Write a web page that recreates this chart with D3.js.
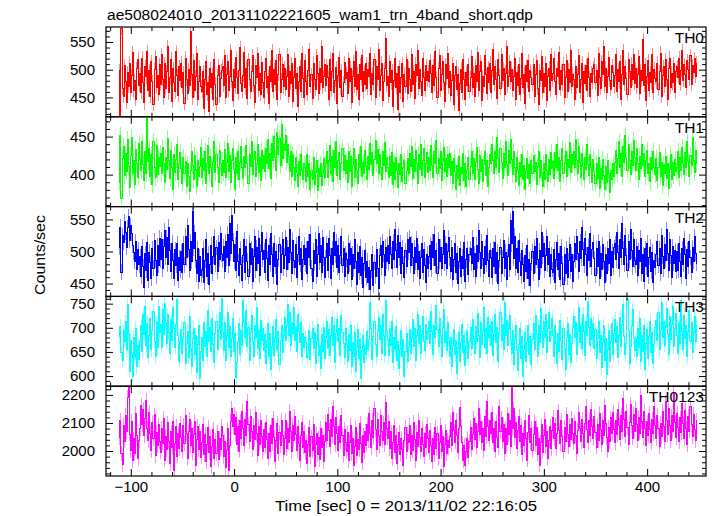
<!DOCTYPE html>
<html><head><meta charset="utf-8">
<script src="https://cdn.jsdelivr.net/npm/d3@7"></script>
<style>body{margin:0;background:#fff}svg{display:block}text{font-family:"Liberation Sans",Arial,sans-serif;fill:#000}</style>
</head><body><svg id="c" width="717" height="516"></svg>
<script>
const titleText = "ae508024010_20131102221605_wam1_trn_4band_short.qdp";
const xLabel = "Time [sec] 0 = 2013/11/02 22:16:05";
const yLabel = "Counts/sec";
const bandNames = ["TH0", "TH1", "TH2", "TH3", "TH0123"];
const bandColors = ["#ff0000", "#00ff00", "#0000ff", "#00ffff", "#ff00ff"];
const tStart = -111, binSec = 1;
const bandErr = [12, 11, 12, 15, 26];
const yDomains = [[415, 577], [358, 476], [430, 570], [579, 765], [1911, 2231]];
const yMajorTicks = [[450, 500, 550], [400, 450], [450, 500, 550], [600, 650, 700, 750], [2000, 2100, 2200]];
const yMinorStep = [10, 10, 10, 10, 20];
const xDomain = [-124, 457];
const xMajorTicks = [-100, 0, 100, 200, 300, 400];
const xMinorStep = 20;

const th0 = [
498,418,574,466,452,507,478,441,495,470,512,458,489,531,463,480,447,502,519,471,
493,459,521,476,440,505,487,533,462,498,451,515,479,437,500,524,468,490,455,509,
474,528,483,449,511,466,496,541,458,485,519,443,502,477,460,532,489,453,506,481,
512,468,495,439,521,483,457,500,472,568,491,449,516,463,487,530,446,478,505,470,
461,497,430,482,514,455,476,425,502,468,493,447,519,474,438,489,507,452,484,498,
506,471,526,450,492,515,463,488,534,479,445,501,468,522,486,457,498,540,475,461,
489,531,467,503,448,518,482,460,497,525,472,441,508,486,529,463,494,455,513,477,
450,496,521,468,487,439,506,479,534,461,500,473,516,446,491,527,458,482,510,469,
503,464,488,527,452,497,475,511,442,485,520,466,493,434,478,505,461,530,484,449,
517,479,455,498,536,470,491,448,512,483,465,526,494,457,503,476,541,468,487,509,
472,508,485,446,519,463,497,530,458,481,504,439,490,522,467,499,451,476,513,484,
495,457,520,479,503,441,488,515,470,532,464,492,447,509,483,526,460,497,474,511,
466,501,487,529,455,493,474,518,449,506,482,537,463,490,512,445,479,502,556,471,
488,452,514,476,499,433,481,520,467,494,428,506,459,485,511,443,492,470,518,457,
503,482,461,527,474,496,448,510,489,535,466,501,478,453,520,486,463,508,481,497,
479,516,494,458,507,471,533,486,450,502,525,462,491,514,476,443,509,484,530,468,
497,454,480,511,438,489,506,464,492,427,475,501,458,518,483,446,495,472,509,461,
486,523,467,494,452,508,479,531,462,497,515,445,488,470,526,491,457,504,476,512,
459,498,536,474,505,483,448,519,490,466,527,481,502,455,494,541,470,487,514,478,
501,463,488,520,447,495,472,510,456,484,530,468,492,439,507,479,516,461,498,485,
473,509,452,491,516,466,438,499,481,524,459,493,470,512,445,487,503,462,528,480,
494,521,478,456,503,487,531,465,498,474,510,449,486,517,461,500,476,535,469,492,
482,447,505,468,491,526,459,483,512,440,497,475,508,463,520,486,451,494,477,503,
510,476,498,453,529,485,466,514,492,541,470,503,458,487,522,481,464,507,495,469,
489,527,461,500,478,515,446,492,534,473,505,484,455,519,496,467,510,482,528,475,
502,468,491,523,457,498,480,554,471,509,444,487,516,463,495,476,528,458,501,484,
478,512,464,497,530,452,489,506,470,518,483,446,502,521,468,494,476,511,459,497,
505,486,521,473,498,535,480,509,492,467,516,501,483,526,474,507,495,520,488,512];

const th1 = [
390,452,368,421,437,399,428,404,446,411,383,425,449,402,418,387,433,415,396,441,
420,405,443,413,392,430,401,476,417,435,398,426,387,444,409,396,438,400,423,411,
428,401,436,414,390,423,407,447,418,395,432,409,381,426,403,420,440,393,415,429,
408,389,423,401,417,385,414,398,378,406,431,412,393,425,407,384,419,397,411,436,
396,421,405,430,388,414,438,401,424,409,385,417,443,403,427,410,390,432,415,399,
419,403,433,396,416,441,404,425,390,418,435,407,381,422,402,430,394,416,437,410,
395,424,409,438,414,388,427,411,443,400,420,431,397,413,440,403,422,392,432,408,
425,404,434,415,446,408,428,395,441,419,450,422,405,456,427,447,412,466,421,439,
432,451,416,440,424,404,431,398,426,410,392,422,403,385,417,399,427,406,393,414,
409,391,426,398,415,381,406,394,422,387,403,419,379,408,397,414,386,402,421,396,
414,430,396,419,438,401,424,391,432,410,443,399,419,429,393,415,435,406,425,402,
418,390,430,404,424,384,412,434,396,420,406,389,427,409,437,397,416,402,432,411,
394,424,407,441,413,429,399,420,445,414,433,402,426,409,393,430,412,442,404,422,
410,396,424,399,429,387,416,394,423,405,383,414,400,427,391,410,418,389,406,421,
401,428,411,437,395,420,404,432,414,388,426,407,440,399,418,434,396,414,429,403,
423,405,438,412,396,430,415,445,401,421,408,431,392,417,436,404,421,397,427,410,
428,399,417,389,421,404,380,412,395,424,386,410,401,428,392,415,384,406,422,394,
411,431,402,421,393,416,436,407,389,425,404,420,391,413,430,399,418,385,410,427,
415,440,418,401,431,410,449,421,403,434,416,395,428,409,443,413,399,432,415,446,
420,400,430,410,391,422,405,386,416,398,427,393,412,381,406,421,395,413,389,418,
401,425,404,416,387,411,430,396,419,403,385,415,394,426,405,391,420,400,429,408,
417,395,429,410,440,405,423,391,419,434,401,415,430,397,420,410,442,403,426,413,
430,409,446,418,402,437,416,396,428,411,393,423,407,439,413,399,427,410,390,420,
404,388,415,395,423,382,408,394,420,399,380,411,390,418,401,376,406,393,414,398,
416,432,401,421,443,409,428,397,437,416,452,423,406,440,418,400,431,412,445,422,
405,434,414,394,424,408,440,412,428,398,419,432,402,414,391,422,407,430,410,400,
421,392,410,429,398,416,386,413,401,424,395,415,382,407,426,393,416,399,420,404,
410,431,396,422,406,436,414,400,429,409,443,417,398,425,412,449,419,403,432,415];

const th2 = [
506,538,468,525,514,546,530,506,537,555,517,541,528,509,498,484,515,472,503,479,
492,461,508,476,444,497,470,514,455,499,483,458,505,474,517,486,462,509,478,521,
487,519,473,508,532,491,522,480,538,501,469,513,486,458,503,478,512,455,491,470,
500,468,512,479,524,490,541,503,471,516,484,563,505,529,486,465,504,454,492,463,
471,504,452,486,519,461,497,448,479,510,466,492,523,480,506,469,514,488,528,495,
486,508,469,515,490,527,478,543,497,556,517,485,511,471,531,484,463,504,480,455,
494,519,467,508,485,461,513,479,504,454,492,523,471,506,482,521,463,500,529,488,
502,468,518,489,455,509,480,528,495,461,513,477,500,448,488,511,467,496,519,474,
493,522,472,506,483,534,498,465,517,486,475,511,460,496,524,480,505,456,488,510,
480,505,465,515,490,527,474,453,502,481,518,461,496,528,483,509,467,522,490,459,
490,512,471,521,493,458,504,480,530,494,515,475,509,467,493,524,478,505,461,497,
488,466,513,480,504,457,496,473,519,485,448,499,467,508,462,490,444,481,502,459,
485,452,475,440,470,496,447,483,461,503,473,443,493,510,475,516,496,462,507,485,
510,482,523,495,473,516,487,534,502,475,525,490,514,466,506,481,459,502,477,519,
499,522,478,512,490,465,506,483,520,472,500,458,490,512,468,503,478,451,496,473,
492,510,472,516,490,527,478,502,466,519,485,507,474,495,533,481,512,474,500,522,
490,469,506,456,488,513,467,497,450,484,504,461,492,474,514,453,487,505,464,495,
505,482,522,472,497,461,510,485,532,498,473,515,489,465,508,480,525,486,461,501,
490,459,504,477,514,465,499,450,486,507,465,491,517,473,499,456,492,511,472,548,
512,562,489,524,474,504,468,517,485,462,502,479,453,494,469,509,458,488,447,481,
500,466,508,479,520,487,456,502,475,529,492,512,470,493,523,480,504,461,495,472,
467,503,452,488,514,472,497,457,508,481,448,495,466,504,460,486,511,469,495,454,
484,512,487,523,497,469,515,489,537,503,478,520,495,462,507,486,528,476,503,514,
489,463,505,477,515,458,497,472,511,485,451,495,466,504,481,518,462,500,475,506,
512,487,530,498,473,519,491,544,504,480,525,493,470,515,487,534,501,476,518,486,
479,508,463,501,484,521,466,495,454,504,476,513,461,491,507,469,499,451,486,475,
495,516,478,505,466,525,492,473,511,486,534,497,470,518,493,460,508,481,502,469,
500,471,512,485,461,505,480,520,496,458,503,477,515,491,467,506,484,523,497,482];

const th3 = [
682,703,648,633,694,671,712,655,749,686,610,674,644,600,680,639,699,620,663,634,
673,704,650,728,687,745,664,709,639,684,720,654,695,734,671,641,711,659,744,690,
706,659,737,686,750,711,668,727,691,646,717,674,741,698,660,707,758,684,631,672,
697,647,680,710,627,668,693,639,723,658,619,677,699,645,685,608,666,705,595,651,
679,632,710,661,692,640,735,671,701,651,720,666,628,688,714,654,696,731,675,760,
693,653,711,632,683,731,659,702,640,677,719,651,688,596,630,672,708,645,694,663,
757,711,679,735,662,700,633,690,726,671,641,705,680,742,657,694,636,716,673,699,
652,687,626,673,708,640,689,614,662,703,643,680,718,655,693,623,674,705,648,685,
721,673,704,748,684,731,664,711,689,742,673,701,650,727,693,669,710,640,688,660,
680,670,638,652,695,634,678,699,657,690,625,672,706,642,664,616,686,651,700,637,
680,712,657,696,643,683,721,664,705,628,688,717,672,699,643,725,690,667,638,699,
666,631,687,653,704,620,670,640,690,610,660,697,636,675,594,652,684,628,664,644,
692,654,675,752,699,634,682,712,665,641,692,721,676,704,647,728,683,643,757,695,
675,642,699,663,714,628,680,655,703,633,672,615,656,694,640,675,600,651,688,631,
659,697,646,678,718,661,699,632,683,728,667,704,647,686,724,671,652,707,675,692,
712,668,734,692,645,705,679,747,696,661,719,684,640,700,738,670,693,653,710,677,
640,679,619,663,696,645,673,606,659,691,631,669,706,649,683,622,662,695,636,672,
700,657,718,678,646,703,671,729,685,638,710,666,693,741,660,698,647,722,680,704,
664,712,642,687,727,670,701,630,691,732,674,707,655,752,684,715,664,698,726,676,
646,694,624,673,705,653,612,665,698,637,681,600,652,690,631,670,704,645,682,623,
675,708,656,725,686,640,704,669,740,693,659,713,680,727,648,699,731,671,692,719,
684,641,704,667,625,689,651,716,673,634,698,657,613,679,708,645,687,629,668,701,
724,680,710,645,693,741,669,705,658,728,693,643,714,683,754,700,664,720,675,709,
657,697,637,678,714,648,685,618,669,704,633,677,603,656,695,630,671,708,644,688,
718,670,702,638,685,722,661,706,749,681,644,668,758,694,627,662,703,737,679,652,
677,641,699,660,719,630,683,651,705,613,668,696,636,681,714,648,691,625,665,701,
715,673,731,655,697,752,680,714,664,703,740,688,644,724,676,707,745,661,698,729,
684,646,710,668,757,692,655,726,677,704,640,693,735,671,711,649,690,723,672,705];

const th0123 = [
2048,2108,1992,1951,2090,2035,2128,2069,2190,2229,2060,2001,2106,1965,2043,1990,2133,2057,1972,2036,
2080,2163,2094,2149,2055,2116,2180,2079,2036,2138,2063,2002,2101,2045,2129,1984,2066,2020,2093,2034,
1996,2082,2028,2115,1968,2053,2004,2100,2033,1955,2068,2013,2106,1930,2027,2088,1982,2062,2010,2098,
2049,1999,2091,2026,2127,2061,1973,2070,2114,2018,2082,1994,2058,2105,1950,2040,2089,2005,2069,1978,
2031,2095,1988,2060,1962,2023,2084,1995,2050,1945,2016,2078,1975,2040,1992,2068,1969,2045,2004,2088,
2057,1979,2033,1941,2003,2079,1930,2021,2105,2152,2087,2130,2058,2118,2025,2089,2000,2107,2044,2140,
2080,2019,2113,2055,2176,2095,2033,2123,2068,2005,2092,2042,2136,2063,1983,2087,2025,2110,2051,1998,
2075,2014,2103,2040,1974,2061,1999,2090,2026,2117,2049,1963,2038,2099,1992,2066,2020,2108,2054,1988,
2045,2110,2008,2079,2029,2140,2069,1998,2092,2038,2122,2060,2002,2086,2028,1966,2054,2103,2014,2068,
1994,2036,1955,2022,2084,1980,2050,2001,2096,1944,2024,2063,1986,2047,1970,2080,2013,2055,1962,2033,
2103,2037,2130,2073,2015,2112,2052,2157,2089,2024,2120,2064,2002,2088,2032,2127,2057,1985,2078,2030,
1999,2065,1967,2030,2092,1990,2046,1950,2016,2083,1983,2041,2004,2099,2028,1958,2055,1996,2071,2021,
2094,2036,2133,2062,2013,2108,2048,2152,2077,2006,2114,2056,2019,2125,2071,2037,2100,2022,2172,2079,
2046,2105,2009,2068,1974,2031,2092,1993,2055,1957,2023,2066,1986,2046,2006,1948,2036,2083,1999,2058,
2029,2090,1988,2054,2002,2101,2040,1967,2066,2016,2110,2047,1997,2081,2025,1979,2062,2011,2094,2043,
1994,2073,2018,1963,2043,1986,2085,2009,2062,1973,2032,2092,1999,2050,1944,2024,2072,1990,2039,2012,
2053,2102,2021,2136,2072,2032,2110,2054,1995,2082,2155,2088,2029,1965,2021,1950,1999,2046,1978,2034,
2083,2006,2059,2116,2041,2097,2013,2071,2151,2060,2106,2030,2082,2002,2124,2051,2177,2087,2039,2110,
2064,2136,2029,2081,2000,2104,2047,2012,2160,2068,2118,2034,2093,1992,2079,2023,2132,2058,2107,2015,
2226,2079,2150,2047,2100,2008,2072,2123,2035,2091,1987,2061,2018,2110,2043,1968,2067,2128,2029,2081,
2002,2058,2106,2021,2085,1989,2043,1950,2031,2093,1996,2054,2114,2015,2068,1973,2038,2088,2010,2074,
2121,2045,2097,2010,2063,2143,2074,2026,2108,2050,1997,2085,2033,2131,2059,2016,2093,2042,2117,2061,
2028,2104,2055,1992,2074,2139,2079,2033,2114,2063,2011,2097,2158,2076,2030,2110,2056,2147,2088,2045,
2123,2066,2014,2093,2037,2134,2075,2024,2108,2055,2163,2098,2049,2000,2085,2033,2118,2062,2137,2078,
2031,2108,2059,2149,2090,2040,2127,2068,2188,2112,2052,2141,2083,2025,2102,2166,2091,2046,2130,2071,
2151,2095,2036,2120,2064,2198,2106,2047,2142,2081,2019,2104,2056,2133,2075,2029,2113,2062,2159,2092,
2044,2127,2080,2017,2098,2052,2140,2086,2034,2175,2109,2058,2152,2090,2038,2125,2069,2210,2101,2049,
2133,2084,2033,2118,2065,2170,2097,2043,2144,2080,2024,2122,2071,2157,2094,2052,2130,2076,2036,2108];

const seriesList = [th0, th1, th2, th3, th0123];

const svg = d3.select("#c");
const L = 106, R = 706, T = 27, B = 476;
const nP = seriesList.length;
const ph = (B - T) / nP;
const x = d3.scaleLinear().domain(xDomain).range([L, R]);
const xMinor = d3.range(Math.ceil(xDomain[0] / xMinorStep) * xMinorStep, xDomain[1], xMinorStep)
  .filter(v => !xMajorTicks.includes(v));

function styleAxis(g, fs) {
  g.select(".domain").remove();
  g.attr("font-family", null).attr("font-size", null);
  g.selectAll("line").attr("stroke", "#000").attr("stroke-width", 1);
  g.selectAll("text").attr("fill", "#000").style("font-size", fs + "px");
}

seriesList.forEach((vals, i) => {
  const top = T + i * ph, bot = top + ph;
  const y = d3.scaleLinear().domain(yDomains[i]).range([bot, top]);
  const color = bandColors[i];
  const err = bandErr[i];
  const pts = vals.map((v, k) => ({ t: tStart + k * binSec, v }));
  const g = svg.append("g");
  const cid = "clip" + i;
  svg.append("clipPath").attr("id", cid).append("rect")
    .attr("x", L).attr("y", top).attr("width", R - L).attr("height", ph);
  const dg = g.append("g").attr("clip-path", `url(#${cid})`).attr("shape-rendering", "crispEdges");
  dg.selectAll("line.err").data(pts).join("line").attr("class", "err")
    .attr("x1", d => x(d.t)).attr("x2", d => x(d.t))
    .attr("y1", d => y(d.v - err)).attr("y2", d => y(d.v + err))
    .attr("stroke", color).attr("stroke-opacity", 0.45).attr("stroke-width", 1);
  dg.append("path").datum(pts)
    .attr("d", d3.line().x(d => x(d.t)).y(d => y(d.v)).curve(d3.curveStep))
    .attr("fill", "none").attr("stroke", color).attr("stroke-width", 1);

  const yd = yDomains[i], st = yMinorStep[i];
  const yMinor = d3.range(Math.ceil(yd[0] / st) * st, yd[1], st).filter(v => !yMajorTicks[i].includes(v));
  g.append("g").attr("transform", `translate(${L},0)`)
    .call(d3.axisLeft(y).tickValues(yMajorTicks[i]).tickSize(-7).tickPadding(11).tickFormat(d3.format("d")))
    .call(a => styleAxis(a, 15));
  g.append("g").attr("transform", `translate(${L},0)`)
    .call(d3.axisLeft(y).tickValues(yMinor).tickSize(-4).tickFormat(""))
    .call(a => styleAxis(a, 15));
  g.append("g").attr("transform", `translate(${R},0)`)
    .call(d3.axisRight(y).tickValues(yMajorTicks[i]).tickSize(-7).tickFormat(""))
    .call(a => styleAxis(a, 15));
  g.append("g").attr("transform", `translate(${R},0)`)
    .call(d3.axisRight(y).tickValues(yMinor).tickSize(-4).tickFormat(""))
    .call(a => styleAxis(a, 15));
  g.append("g").attr("transform", `translate(0,${top})`)
    .call(d3.axisTop(x).tickValues(xMajorTicks).tickSize(-7).tickFormat(""))
    .call(a => styleAxis(a, 15));
  g.append("g").attr("transform", `translate(0,${top})`)
    .call(d3.axisTop(x).tickValues(xMinor).tickSize(-4).tickFormat(""))
    .call(a => styleAxis(a, 15));
  const last = i === nP - 1;
  g.append("g").attr("transform", `translate(0,${bot})`)
    .call(d3.axisBottom(x).tickValues(xMajorTicks).tickSize(-7).tickPadding(5)
      .tickFormat(last ? d3.format("d") : ""))
    .call(a => styleAxis(a, 15));
  g.append("g").attr("transform", `translate(0,${bot})`)
    .call(d3.axisBottom(x).tickValues(xMinor).tickSize(-4).tickFormat(""))
    .call(a => styleAxis(a, 15));

  g.append("rect").attr("x", L).attr("y", top).attr("width", R - L).attr("height", ph)
    .attr("fill", "none").attr("stroke", "#000").attr("stroke-width", 1.2);
  g.append("text").attr("x", 704).attr("y", top + 16).attr("text-anchor", "end")
    .style("font-size", "15.5px").text(bandNames[i]);
});

svg.append("text").attr("x", 107).attr("y", 20).style("font-size", "14px")
  .attr("textLength", 426).attr("lengthAdjust", "spacingAndGlyphs").text(titleText);
svg.append("text").attr("x", (L + R) / 2).attr("y", 511).attr("text-anchor", "middle")
  .style("font-size", "14px").attr("textLength", 262).attr("lengthAdjust", "spacingAndGlyphs").text(xLabel);
svg.append("text").attr("transform", "translate(45,255) rotate(-90)").attr("text-anchor", "middle")
  .style("font-size", "14px").attr("textLength", 80).attr("lengthAdjust", "spacingAndGlyphs").text(yLabel);
</script></body></html>
